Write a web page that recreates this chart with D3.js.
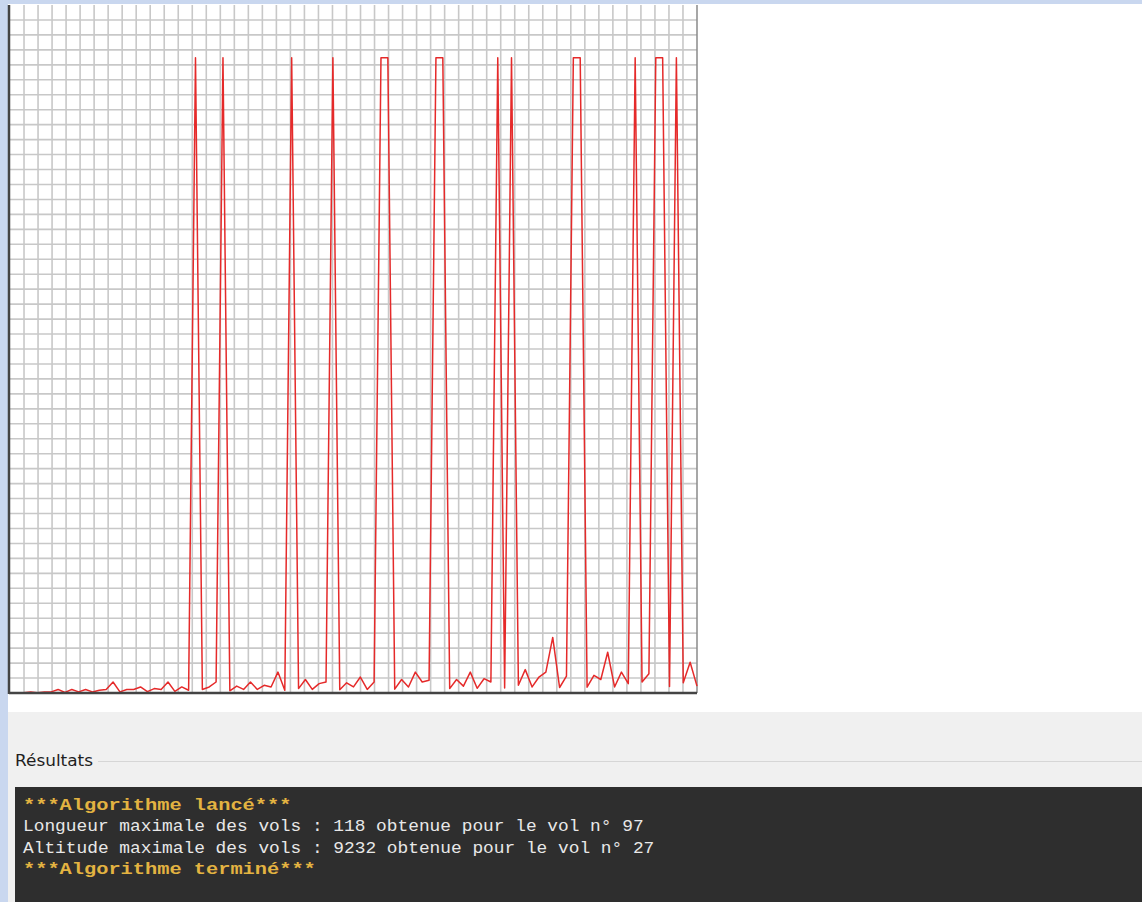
<!DOCTYPE html>
<html>
<head>
<meta charset="utf-8">
<script src="https://cdn.jsdelivr.net/npm/d3@7"></script>
<style>
  html, body { margin: 0; padding: 0; background: #c9d7ef; }
  svg { display: block; }
</style>
</head>
<body>
<svg id="chart" width="1142" height="902"></svg>
<script>
// numéros des vols (1..100)
const vols = d3.range(1, 101);
// altitude maximale de chaque vol
const altitudes = [
  1, 2, 16, 4, 16, 16, 52, 8, 52, 16,
  52, 16, 40, 52, 160, 16, 52, 52, 88, 20,
  64, 52, 160, 24, 88, 40, 9232, 52, 88, 160,
  9232, 32, 100, 52, 160, 52, 112, 88, 304, 40,
  9232, 64, 196, 52, 136, 160, 9232, 48, 148, 88,
  232, 52, 160, 9232, 9232, 56, 196, 88, 304, 160,
  184, 9232, 9232, 64, 196, 100, 304, 68, 208, 160,
  9232, 72, 9232, 112, 340, 88, 232, 304, 808, 80,
  244, 9232, 9232, 84, 256, 196, 592, 88, 304, 136,
  9232, 160, 280, 9232, 9232, 96, 9232, 148, 448, 100
];
const xDomain = [0, 100];
const yDomain = [0, 10000];
const nbColonnes = 49;
const nbLignes = 46;

const resultats = [
  { txt: "***Algorithme lancé***", bold: true },
  { txt: "Longueur maximale des vols : 118 obtenue pour le vol n° 97", bold: false },
  { txt: "Altitude maximale des vols : 9232 obtenue pour le vol n° 27", bold: false },
  { txt: "***Algorithme terminé***", bold: true }
];

const svg = d3.select('#chart');

// fonds
svg.append('rect').attr('x', 8).attr('y', 4).attr('width', 1134).attr('height', 708).attr('fill', '#ffffff');
svg.append('rect').attr('x', 8).attr('y', 712).attr('width', 1134).attr('height', 190).attr('fill', '#f0f0f0');

const plot = {left: 10, top: 5, right: 697, bottom: 693};
const x = d3.scaleLinear().domain(xDomain).range([plot.left, plot.right]);
const y = d3.scaleLinear().domain(yDomain).range([plot.bottom, plot.top]);

// grille
const g = svg.append('g');
const gx = d3.range(1, nbColonnes).map(i => xDomain[0] + i * (xDomain[1] - xDomain[0]) / nbColonnes);
const gy = d3.range(1, nbLignes).map(i => yDomain[0] + i * (yDomain[1] - yDomain[0]) / nbLignes);

g.selectAll('.vx').data(gx).enter().append('line')
  .attr('x1', d => x(d)).attr('x2', d => x(d))
  .attr('y1', plot.top).attr('y2', plot.bottom)
  .attr('stroke', '#c8c8c8').attr('stroke-width', 1.6);
g.selectAll('.hy').data(gy).enter().append('line')
  .attr('x1', plot.left).attr('x2', plot.right)
  .attr('y1', d => y(d)).attr('y2', d => y(d))
  .attr('stroke', '#c8c8c8').attr('stroke-width', 1.6);

// cadre
g.append('line').attr('x1', plot.right).attr('x2', plot.right).attr('y1', plot.top).attr('y2', plot.bottom)
  .attr('stroke', '#8a8a8a').attr('stroke-width', 1.5);

// courbe
const data = vols.map((v, i) => ({ n: v, alt: altitudes[i] }));
const line = d3.line().x(d => x(d.n)).y(d => y(d.alt));
g.append('path').datum(data)
  .attr('fill', 'none')
  .attr('stroke', '#e52a2a')
  .attr('stroke-width', 1.5)
  .attr('stroke-linejoin', 'round')
  .attr('d', line);

// axes
g.append('line').attr('x1', plot.left - 1).attr('x2', plot.right).attr('y1', plot.bottom).attr('y2', plot.bottom)
  .attr('stroke', '#444').attr('stroke-width', 2.5);
g.append('line').attr('x1', plot.left - 1).attr('x2', plot.left - 1).attr('y1', plot.top).attr('y2', plot.bottom + 1)
  .attr('stroke', '#444').attr('stroke-width', 2.5);

// panneau Résultats
svg.append('text').attr('x', 15).attr('y', 766)
  .attr('font-family', 'DejaVu Sans, sans-serif').attr('font-size', 15.5)
  .attr('fill', '#1e1e1e')
  .attr('textLength', 78).attr('lengthAdjust', 'spacingAndGlyphs')
  .text('Résultats');
svg.append('line').attr('x1', 98).attr('x2', 1142).attr('y1', 761.5).attr('y2', 761.5)
  .attr('stroke', '#d6d6d6').attr('stroke-width', 1);

svg.append('rect').attr('x', 15).attr('y', 787).attr('width', 1127).attr('height', 115).attr('fill', '#2e2e2e');

svg.selectAll('.res').data(resultats).enter().append('text')
  .attr('x', 23)
  .attr('y', (d, i) => 810 + i * 21.3)
  .attr('font-family', 'Liberation Mono, DejaVu Sans Mono, monospace')
  .attr('font-size', d => d.bold ? 17 : 16)
  .attr('font-weight', d => d.bold ? 'bold' : 'normal')
  .attr('fill', d => d.bold ? '#e3b341' : '#e8e8e8')
  .attr('textLength', d => d.bold ? d.txt.length * 12.2 : d.txt.length * 10.7)
  .attr('lengthAdjust', 'spacingAndGlyphs')
  .text(d => d.txt);
</script>
</body>
</html>
